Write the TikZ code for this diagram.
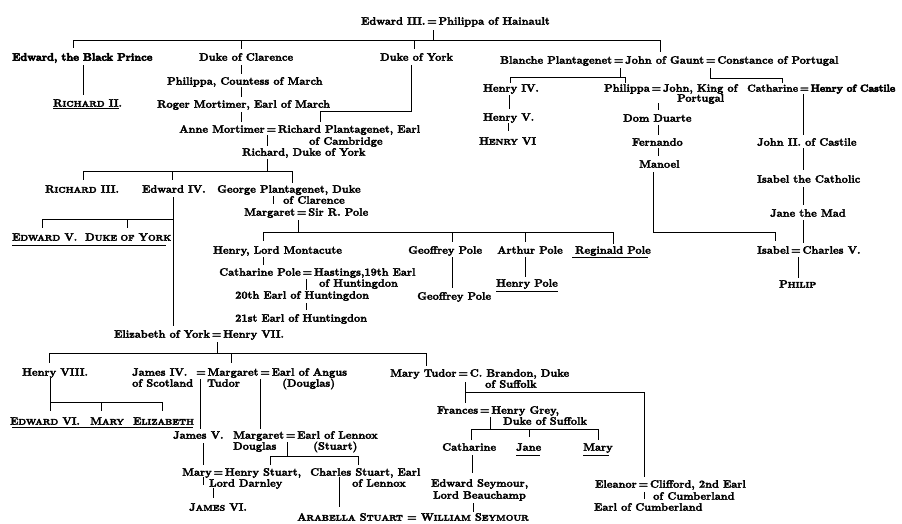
\documentclass[tikz,border=0pt]{standalone}
\newcommand\sm{\fontsize{8.3}{9}\selectfont}
\newcommand\strk[1]{\special{pdf:literal direct 2 Tr #1 w}}
\newcommand\nostrk{\special{pdf:literal direct 0 Tr 0.4 w}}
\newcommand\heavy[1]{\strk{0.55}#1\strk{0.25}}
\begin{document}
\begin{tikzpicture}[x=1pt,y=-1pt,
  pers/.style={anchor=west,inner sep=0pt,font=\fontsize{10.8}{12}\bfseries,text height=7.4pt,text depth=0pt,
    execute at begin node=\strk{0.25},execute at end node=\nostrk},
  link/.style={line width=0.8pt},
  uline/.style={line width=0.9pt}]
\useasboundingbox[fill=white] (0,0) rectangle (902,523);
% ---- nodes ----
\node[pers] (e3) at (361,21) {Edward III.\,=\,Philippa of Hainault};
\node[pers] (bp) at (12,57) {\heavy{Edward, the Black Prince}};
\node[pers] (clar) at (199,57) {Duke of Clarence};
\node[pers] (york) at (380,57) {Duke of York};
\node[pers] (gaunt) at (500,60) {Blanche Plantagenet\,=\,John of Gaunt\,=\,Constance of Portugal};
\node[pers] (r2) at (53,103) {R{\sm ICHARD} II.};
\node[pers] (phc) at (167,81) {Philippa, Countess of March};
\node[pers] (rog) at (157,104) {Roger Mortimer, Earl of March};
\node[pers] (anne) at (179,129) {Anne Mortimer\,=\,Richard Plantagenet, Earl};
\node[pers] (camb) at (309,141) {of Cambridge};
\node[pers] (rdy) at (242,152) {Richard, Duke of York};
\node[pers] (r3) at (45,189) {R{\sm ICHARD} III.};
\node[pers] (e4) at (142,189) {Edward IV.};
\node[pers] (geo) at (217,189) {George Plantagenet, Duke};
\node[pers] (geob) at (283,200) {of Clarence};
\node[pers] (marg) at (244,212) {Margaret\,=\,Sir R. Pole};
\node[pers] (e5) at (12,237) {E{\sm DWARD} V.};
\node[pers] (dy) at (85,237) {D{\sm UKE OF} Y{\sm ORK}};
\node[pers] (mont) at (213,250) {Henry, Lord Montacute};
\node[pers] (gp1) at (408,250) {Geoffrey Pole};
\node[pers] (ap) at (497,250) {Arthur Pole};
\node[pers] (rp) at (575,250) {Reginald Pole};
\node[pers] (cp) at (219,272) {Catharine Pole\,=\,Hastings,19th Earl};
\node[pers] (hunt) at (319,283) {of Huntingdon};
\node[pers] (e20) at (235,295) {20th Earl of Huntingdon};
\node[pers] (e21) at (235,318) {21st Earl of Huntingdon};
\node[pers] (gp2) at (417,296) {Geoffrey Pole};
\node[pers] (hp) at (496,283) {Henry Pole};
\node[pers] (h4) at (483,88) {Henry IV.};
\node[pers] (phj) at (604,88) {Philippa\,=\,John, King of};
\node[pers] (port) at (677,98) {Portugal};
\node[pers,font=\fontsize{10.2}{12}\bfseries] (cath) at (747,88) {Catharine\,=\,\heavy{Henry of Castile}};
\node[pers] (h5) at (483,117) {Henry V.};
\node[pers] (h6) at (479,141) {H{\sm ENRY} VI};
\node[pers] (dd) at (623,118) {Dom Duarte};
\node[pers] (fer) at (632,142) {Fernando};
\node[pers] (man) at (639,164) {Manoel};
\node[pers] (j2) at (757,142) {John II. of Castile};
\node[pers] (isc) at (757,179) {Isabel the Catholic};
\node[pers] (jm) at (770,213) {Jane the Mad};
\node[pers] (isa) at (757,250) {Isabel\,=\,Charles V.};
\node[pers] (phil) at (779,284) {P{\sm HILIP}};
\node[pers] (eliz) at (114,334) {Elizabeth of York\,=\,Henry VII.};
\node[pers] (h8) at (22,372) {Henry VIII.};
\node[pers] (j4) at (132,372) {James IV.};
\node[pers] (mtud) at (196,372) {=\,Margaret\,=\,Earl of Angus};
\node[pers] (scot) at (132,383) {of Scotland};
\node[pers] (tud) at (207,383) {Tudor};
\node[pers] (dougl) at (282,383) {(Douglas)};
\node[pers] (mt) at (390,373) {Mary Tudor\,=\,C. Brandon, Duke};
\node[pers] (suf) at (485,384) {of Suffolk};
\node[pers] (e6) at (10,421) {E{\sm DWARD} VI.};
\node[pers] (mary) at (90,421) {M{\sm ARY}};
\node[pers] (elz) at (133,421) {E{\sm LIZABETH}};
\node[pers] (j5) at (173,435) {James V.};
\node[pers] (md) at (233,435) {Margaret\,=\,Earl of Lennox};
\node[pers] (dgl) at (233,446) {Douglas};
\node[pers] (stu) at (313,446) {(Stuart)};
\node[pers] (fr) at (437,410) {Frances\,=\,Henry Grey,};
\node[pers] (dsf) at (503,421) {Duke of Suffolk};
\node[pers] (cat2) at (442,447) {Catharine};
\node[pers] (jane) at (516,447) {Jane};
\node[pers] (mary2) at (583,447) {Mary};
\node[pers] (mhs) at (182,472) {Mary\,=\,Henry Stuart,};
\node[pers] (ld) at (209,483) {Lord Darnley};
\node[pers] (cs) at (310,472) {Charles Stuart, Earl};
\node[pers] (len) at (352,483) {of Lennox};
\node[pers] (es) at (431,483) {Edward Seymour,};
\node[pers] (lb) at (433,495) {Lord Beauchamp};
\node[pers] (el) at (595,484) {Eleanor\,=\,Clifford, 2nd Earl};
\node[pers] (cum) at (653,496) {of Cumberland};
\node[pers] (ec) at (594,507) {Earl of Cumberland};
\node[pers] (j6) at (189,507) {J{\sm AMES} VI.};
\node[pers] (ara) at (297,517) {A{\sm RABELLA} S{\sm TUART} = W{\sm ILLIAM} S{\sm EYMOUR}};
% ---- connectors ----
\begin{scope}[link]
\draw (433,30)--(433,40);
\draw (73,40)--(660,40);
\draw (73,40)--(73,48); \draw (241,40)--(241,49); \draw (414,40)--(414,49); \draw (660,40)--(660,52);
\draw (83,65)--(83,95);
\draw (241,65)--(241,74); \draw (241,87)--(241,97); \draw (241,112)--(241,122);
\draw (411,65)--(411,111)--(320,111)--(320,122);
\draw (267,135)--(267,146);
\draw (267,159)--(267,171);
\draw (83,171)--(292,171);
\draw (83,171)--(83,180); \draw (172,171)--(172,180); \draw (292,171)--(292,183);
\draw (173,197)--(173,326);
\draw (173,219)--(42,219)--(42,228); \draw (127,219)--(127,228);
\draw (273,196)--(273,204);
\draw (298,220)--(298,232);
\draw (263,232)--(613,232);
\draw (263,232)--(263,241); \draw (452,232)--(452,242); \draw (525,232)--(525,242); \draw (613,232)--(613,244);
\draw (263,257)--(263,265);
\draw (306,279)--(306,290); \draw (306,303)--(306,310);
\draw (452,257)--(452,288);
\draw (525,257)--(525,277);
% Gaunt
\draw (620,68)--(620,77);
\draw (510,77)--(625,77);
\draw (510,77)--(510,83); \draw (625,77)--(625,83);
\draw (710,68)--(710,78)--(782,78)--(782,83);
\draw (509,95)--(509,109); \draw (508,123)--(508,131);
\draw (658,103)--(658,110); \draw (658,125)--(658,135); \draw (658,148)--(658,156);
\draw (653,172)--(653,232)--(775,232)--(775,241);
\draw (803,94)--(803,135); \draw (803,148)--(803,170); \draw (803,187)--(803,205); \draw (803,220)--(803,243);
\draw (798,257)--(798,278);
% Tudor
\draw (217,342)--(217,353);
\draw (49,353)--(426,353);
\draw (49,353)--(49,363); \draw (231,353)--(231,363); \draw (426,353)--(426,366);
\draw (50,378)--(50,402)--(162,402)--(162,411); \draw (50,402)--(50,411); \draw (101,402)--(101,411);
\draw (200,379)--(200,429); \draw (260,379)--(260,429);
\draw (287,442)--(287,456);
\draw (270,465)--(270,456)--(358,456)--(358,465);
\draw (203,443)--(203,465);
\draw (203,477)--(203,485); \draw (213,488)--(213,498);
\draw (339,477)--(339,507);
\draw (465,382)--(465,403);
\draw (465,392)--(644,392)--(644,477);
\draw (490,417)--(490,429);
\draw (471,440)--(471,429)--(598,429)--(598,440);
\draw (529,429)--(529,437);
\draw (472,455)--(472,473);
\draw (473,503)--(473,512);
\draw (644,492)--(644,499);
\end{scope}
% ---- underlines ----
\begin{scope}[uline]
\draw (53,108)--(119,108);
\draw (12,245)--(166,245);
\draw (572,257)--(648,257);
\draw (496,291)--(558,291);
\draw (12,427)--(193,427);
\draw (516,455)--(540,455);
\draw (583,455)--(609,455);
\end{scope}
\end{tikzpicture}
\end{document}
